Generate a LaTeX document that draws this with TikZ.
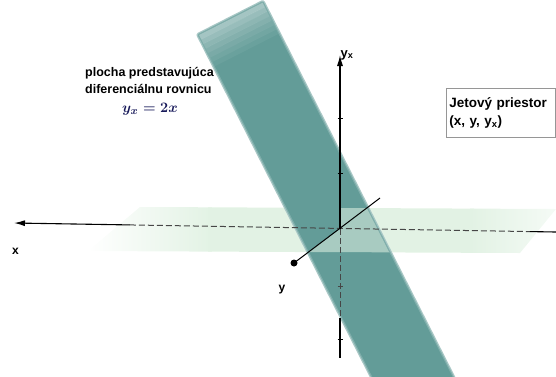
\documentclass[tikz,border=0pt]{standalone}
\usepackage{fontspec}
\setsansfont{Liberation Sans}
\usetikzlibrary{arrows.meta,calc}
\definecolor{BandTeal}{RGB}{99,156,152}
\definecolor{PlaneGreen}{RGB}{226,242,228}
\definecolor{HiddenGray}{RGB}{70,70,70}
\definecolor{BoxGray}{RGB}{150,150,150}
\definecolor{EqNavy}{RGB}{24,26,90}
\tikzset{
  axis/.style={line width=1.1pt,black},
  hidden/.style={line width=1pt,HiddenGray,dash pattern=on 6pt off 3pt},
  axistip/.style={-{Latex[length=11pt,width=6pt]}},
  tickmark/.style={line width=0.8pt,black},
  axislabel/.style={font=\sffamily\bfseries\fontsize{12}{14}\selectfont,inner sep=0pt},
  notetext/.style={font=\sffamily\bfseries\fontsize{12.5}{17}\selectfont,
    inner sep=0pt,anchor=base west},
  jetbox/.style={draw=BoxGray,line width=0.8pt,align=left,text width=103pt,
    inner xsep=3pt,inner ysep=4pt,minimum height=49pt,
    font=\sffamily\bfseries\fontsize{13.5}{17.5}\selectfont}
}

\begin{document}
\begin{tikzpicture}[x=1pt,y=-1pt]
\useasboundingbox (0,0) rectangle (556,376);
\clip (0,0) rectangle (556,376);

% points of the axes
\coordinate (O) at (340,229);
\coordinate (xtip) at (14,223);
\coordinate (xend) at (556,232);
\coordinate (yxtip) at (340,55);
\coordinate (yxbot) at (340,358);
\coordinate (yxcut) at (340,318);
\coordinate (yfront) at (294,263);
\coordinate (yback) at (380,198);

% corners of the band y_x = 2x
\coordinate (bandTL) at (199,35);
\coordinate (bandTR) at (262.6,2.7);
\coordinate (bandBR) at (464.2,400);
\coordinate (bandBL) at (384.2,400);

% horizontal plane, faded at both ends
\shade[left color=white,right color=PlaneGreen]
  (140,207) -- (212,207.3) -- (212,251.6) -- (88,251) -- cycle;
\fill[PlaneGreen] (208,207.3) -- (474,208.6) -- (474,252.8) -- (208,251.6) -- cycle;
\shade[left color=PlaneGreen,right color=PlaneGreen!35!white]
  (470,208.6) -- (556,209) -- (520,253) -- (470,252.8) -- cycle;

% the band, with soft edges
\draw[BandTeal!55,line width=5pt,line join=round]
  (bandTL) -- (bandTR) -- (bandBR) -- (bandBL) -- cycle;
\draw[BandTeal!82,line width=2.5pt,line join=round]
  (bandTL) -- (bandTR) -- (bandBR) -- (bandBL) -- cycle;
\fill[BandTeal] (bandTL) -- (bandTR) -- (bandBR) -- (bandBL) -- cycle;
\foreach \k/\o in {0/0.42,1/0.34,2/0.27,3/0.21,4/0.15,5/0.1,6/0.05}{
  \pgfmathsetmacro\sa{5*\k}
  \pgfmathsetmacro\sb{5*\k+5}
  \fill[white,opacity=\o]
    ($(bandTL)!\sa pt!(bandBL)$) -- ($(bandTR)!\sa pt!(bandBR)$)
    -- ($(bandTR)!\sb pt!(bandBR)$) -- ($(bandTL)!\sb pt!(bandBL)$) -- cycle;
}

% plane in front of the band
\begin{scope}
  \clip (bandTL) -- (bandTR) -- (bandBR) -- (bandBL) -- cycle;
  \fill[PlaneGreen,opacity=0.55]
    (340,208) -- (570,209) -- (570,253) -- (308.9,252) -- (O) -- cycle;
\end{scope}

% x axis
\draw[hidden] ($(xtip)!0.214!(xend)$) -- ($(xtip)!0.952!(xend)$);
\draw[axis,axistip] ($(xtip)!0.214!(xend)$) -- (xtip);
\draw[axis] ($(xtip)!0.952!(xend)$) -- (xend);

% y_x axis
\draw[axis,axistip] (O) -- (yxtip);
\draw[hidden] (O) -- (yxcut);
\draw[axis] (yxcut) -- (yxbot);
\foreach \t in {118,173,339}
  \draw[tickmark] (337.5,\t) -- (342.5,\t);
\draw[tickmark,HiddenGray] (337.5,286) -- (342.5,286);

% y axis
\draw[line width=1pt] (yfront) -- (yback);
\fill (yfront) circle (3.5);

% labels
\node[axislabel] (xlab) at (15.5,251.5) {x};
\node[axislabel] (ylab) at (282,290) {y};
\node[axislabel,anchor=base west,font=\sffamily\bfseries\fontsize{13}{15}\selectfont]
  (yxlab) at (340.5,57) {y\textsubscript{x}};

\node[notetext] (plocha1) at (85,76) {plocha predstavujúca};
\node[notetext] (plocha2) at (85,93.3) {diferenciálnu rovnicu};
\node[anchor=base,inner sep=0pt,text=EqNavy,font=\boldmath\fontsize{15}{18}\selectfont]
  (eq) at (150,112.7) {$y_x = 2x$};

\node[jetbox,anchor=north west] (jet) at (446,88)
  {Jetový priestor\\(x, y, y\textsubscript{x})};

\end{tikzpicture}
\end{document}
